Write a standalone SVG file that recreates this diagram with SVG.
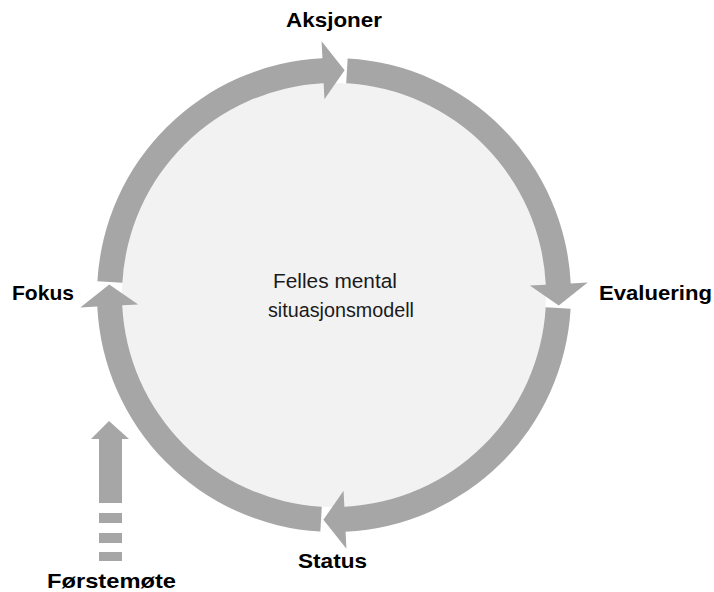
<svg xmlns="http://www.w3.org/2000/svg" xmlns:xlink="http://www.w3.org/1999/xlink" width="714" height="592" viewBox="0 0 714 592">
  <style>
    .ring { fill: #a6a6a6; }
    .lbl { font-family: "Liberation Sans", Arial, sans-serif; font-weight: bold; font-size: 21px; fill: #000; }
    .ctr { font-family: "Liberation Sans", Arial, sans-serif; font-size: 20.5px; fill: #1a1a1a; }
  </style>
  <defs>
    <path id="quarterArrow" class="ring" d="M 13.64 -236.61 A 237 237 0 0 1 236.72 -11.58 L 253.70 -12.41 L 224.75 10.60 L 195.77 -9.57 L 211.75 -10.36 A 212 212 0 0 0 12.20 -211.65 Z"/>
  </defs>
  <rect width="714" height="592" fill="#ffffff"/>
  <g id="center">
    <circle cx="334" cy="295" r="212" fill="#f2f2f2"/>
    <text class="ctr" x="273" y="288" textLength="124" lengthAdjust="spacingAndGlyphs">Felles mental</text>
    <text class="ctr" x="268" y="317" textLength="146" lengthAdjust="spacingAndGlyphs">situasjonsmodell</text>
  </g>
  <g id="connectors">
    <use xlink:href="#quarterArrow" href="#quarterArrow" transform="translate(334,295) rotate(-90)"/>
    <use xlink:href="#quarterArrow" href="#quarterArrow" transform="translate(334,295)"/>
    <use xlink:href="#quarterArrow" href="#quarterArrow" transform="translate(334,295) rotate(90)"/>
    <use xlink:href="#quarterArrow" href="#quarterArrow" transform="translate(334,295) rotate(180)"/>
    <g id="start-arrow" class="ring">
      <path d="M 109 421 L 129 439 L 122 439 L 122 503 L 99 503 L 99 439 L 91 439 Z"/>
      <rect x="99" y="513" width="23" height="10"/>
      <rect x="99" y="533" width="23" height="10"/>
      <rect x="99" y="552" width="23" height="9"/>
    </g>
  </g>
  <g id="aksjoner"><text class="lbl" x="286" y="27" textLength="96" lengthAdjust="spacingAndGlyphs">Aksjoner</text></g>
  <g id="evaluering"><text class="lbl" x="599" y="300" textLength="113" lengthAdjust="spacingAndGlyphs">Evaluering</text></g>
  <g id="status"><text class="lbl" x="298" y="568" textLength="69" lengthAdjust="spacingAndGlyphs">Status</text></g>
  <g id="fokus"><text class="lbl" x="12" y="300" textLength="62" lengthAdjust="spacingAndGlyphs">Fokus</text></g>
  <g id="forstemote"><text class="lbl" x="47" y="588" textLength="129" lengthAdjust="spacingAndGlyphs">Førstemøte</text></g>
</svg>
